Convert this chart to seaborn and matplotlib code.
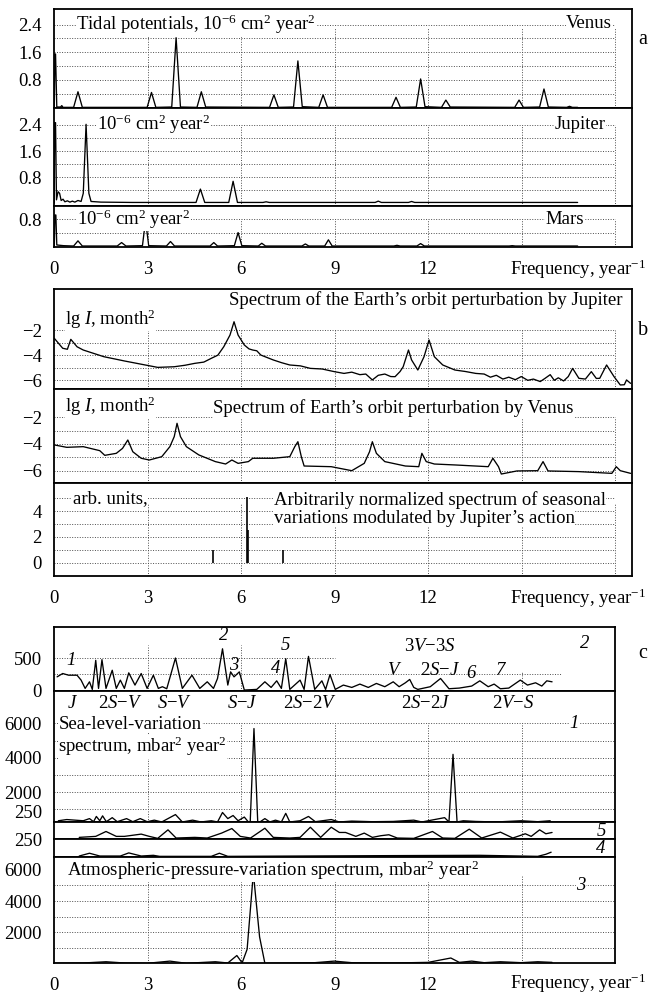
import matplotlib
matplotlib.use("Agg")
import matplotlib.pyplot as plt
import seaborn as sns
import pandas as pd

# ---------------- data (frequency in 1/year, value) ----------------
# (a) tidal potentials, 1e-6 cm^2 year^2
venus_tidal = [(0.0, 0.0), (0.02, 1.55), (0.04, 1.55), (0.08, 0.02), (0.2, 0.02), (0.24, 0.06),
               (0.28, 0.01), (0.62, 0.01), (0.76, 0.46), (0.9, 0.01), (2.98, 0.01), (3.12, 0.44),
               (3.26, 0.01), (3.77, 0.02), (3.91, 2.02), (4.05, 0.02), (4.58, 0.01), (4.72, 0.46),
               (4.86, 0.02), (6.91, 0.01), (7.05, 0.37), (7.19, 0.01), (7.68, 0.02), (7.82, 1.35),
               (7.96, 0.03), (8.49, 0.01), (8.63, 0.37), (8.77, 0.01), (10.83, 0.01), (10.97, 0.30),
               (11.11, 0.01), (11.62, 0.02), (11.76, 0.83), (11.9, 0.03), (12.43, 0.01), (12.57, 0.22),
               (12.71, 0.02), (14.78, 0.01), (14.92, 0.22), (15.06, 0.01), (15.58, 0.02), (15.72, 0.54),
               (15.86, 0.02), (16.45, 0.01), (16.54, 0.04), (16.63, 0.01), (16.8, 0.01)]
jupiter_tidal = [(0.0, 0.0), (0.01, 2.47), (0.04, 2.47), (0.07, 0.1), (0.12, 0.35), (0.17, 0.3),
                 (0.22, 0.08), (0.28, 0.12), (0.34, 0.04), (0.42, 0.07), (0.5, 0.03), (0.58, 0.06),
                 (0.66, 0.03), (0.76, 0.08), (0.86, 0.05), (0.93, 0.3), (1.02, 2.42), (1.11, 0.3),
                 (1.18, 0.05), (1.5, 0.03), (2.5, 0.02), (4.55, 0.02), (4.69, 0.43), (4.83, 0.02),
                 (5.6, 0.02), (5.74, 0.67), (5.88, 0.02), (6.7, 0.02), (6.8, 0.04), (6.9, 0.02),
                 (10.3, 0.02), (10.4, 0.06), (10.5, 0.02), (11.37, 0.02), (11.47, 0.05),
                 (11.57, 0.02), (16.8, 0.02)]
mars_tidal = [(0.0, 0.0), (0.02, 0.92), (0.05, 0.92), (0.08, 0.05), (0.3, 0.03), (0.62, 0.02),
              (0.76, 0.17), (0.9, 0.02), (2.02, 0.02), (2.16, 0.12), (2.3, 0.02), (2.83, 0.03),
              (2.93, 0.77), (3.03, 0.03), (3.6, 0.02), (3.73, 0.15), (3.86, 0.02), (5.0, 0.02),
              (5.12, 0.12), (5.24, 0.02), (5.78, 0.03), (5.9, 0.41), (6.02, 0.03), (6.55, 0.02),
              (6.66, 0.1), (6.78, 0.02), (7.95, 0.02), (8.06, 0.08), (8.17, 0.02), (8.68, 0.02),
              (8.8, 0.2), (8.92, 0.02), (10.9, 0.02), (11.0, 0.04), (11.1, 0.02), (11.64, 0.02),
              (11.76, 0.09), (11.88, 0.02), (14.6, 0.02), (14.7, 0.03), (14.8, 0.02), (16.8, 0.02)]

# (b) lg I of the Earth's orbit perturbation
orbit_jupiter = [(0.0, -2.66), (0.27, -3.45), (0.42, -3.53), (0.53, -2.74), (0.73, -3.33),
                 (0.93, -3.59), (1.59, -4.12), (2.25, -4.46), (2.92, -4.78), (3.32, -4.97),
                 (3.85, -4.92), (4.2, -4.8), (4.51, -4.65), (4.8, -4.55), (5.04, -4.25),
                 (5.25, -4.0), (5.44, -3.33), (5.64, -2.4), (5.77, -1.34), (5.9, -2.4),
                 (6.1, -3.19), (6.25, -3.5), (6.37, -3.59), (6.5, -3.65), (6.63, -3.99),
                 (7.03, -4.38), (7.3, -4.6), (7.56, -4.78), (7.9, -4.85), (8.22, -5.05),
                 (8.6, -5.1), (8.99, -5.31), (9.3, -5.45), (9.55, -5.35), (9.81, -5.55),
                 (10.0, -5.5), (10.21, -5.97), (10.4, -5.6), (10.61, -5.5), (10.8, -5.7),
                 (10.94, -5.71), (11.1, -5.3), (11.2, -4.92), (11.37, -3.59), (11.47, -4.38),
                 (11.67, -5.18), (11.87, -4.12), (12.03, -2.79), (12.2, -4.12), (12.47, -4.78),
                 (12.86, -5.18), (13.2, -5.3), (13.53, -5.45), (13.8, -5.5), (14.0, -5.75),
                 (14.19, -5.6), (14.4, -5.9), (14.59, -5.75), (14.8, -5.95), (14.99, -5.7),
                 (15.2, -6.0), (15.38, -5.9), (15.6, -6.1), (15.75, -5.85), (15.92, -5.55),
                 (16.05, -6.0), (16.18, -5.8), (16.35, -6.05), (16.5, -5.7), (16.64, -5.05),
                 (16.84, -5.84), (17.05, -5.9), (17.24, -5.31), (17.4, -5.85), (17.51, -5.84),
                 (17.73, -4.78), (17.97, -5.71), (18.17, -6.37), (18.3, -6.35), (18.37, -5.97),
                 (18.5, -6.24)]
orbit_venus = [(0.0, -4.07), (0.4, -4.25), (0.93, -4.2), (1.46, -4.5), (1.62, -4.85), (1.99, -4.7),
               (2.19, -4.33), (2.36, -3.7), (2.52, -4.58), (2.79, -5.07), (3.05, -5.2), (3.45, -4.95),
               (3.71, -4.2), (3.85, -3.45), (3.94, -2.45), (4.05, -3.45), (4.24, -4.2), (4.64, -4.82),
               (5.17, -5.32), (5.5, -5.5), (5.7, -5.2), (5.9, -5.45), (6.23, -5.32), (6.37, -5.07),
               (7.03, -5.07), (7.56, -4.95), (7.72, -4.2), (7.82, -3.83), (7.93, -4.95),
               (8.02, -5.65), (8.89, -5.7), (9.55, -6.0), (9.95, -5.45), (10.12, -4.58),
               (10.21, -3.83), (10.34, -4.7), (10.61, -5.32), (11.27, -5.65), (11.7, -5.7),
               (11.8, -4.7), (11.94, -5.32), (12.2, -5.5), (12.86, -5.57), (13.93, -5.7),
               (14.08, -5.07), (14.26, -5.7), (14.35, -6.25), (14.85, -6.02), (15.52, -6.0),
               (15.69, -5.32), (15.85, -6.02), (16.84, -6.07), (17.9, -6.2), (18.04, -5.7),
               (18.17, -6.0), (18.5, -6.2)]
season_freq = [5.08, 6.19, 6.23, 7.35]
season_amp = [0.95, 5.1, 2.5, 0.95]

# (c) observed spectra
spec_2 = [(0.09, 212), (0.27, 263), (0.46, 237), (0.73, 237), (0.86, 162), (0.99, 35), (1.13, 136),
          (1.22, 20), (1.33, 465), (1.42, 35), (1.53, 475), (1.66, 35), (1.86, 313), (1.99, 35),
          (2.12, 162), (2.25, 35), (2.39, 273), (2.59, 86), (2.79, 263), (2.98, 35), (3.18, 237),
          (3.34, 35), (3.47, 61), (3.61, 30), (3.89, 500), (4.11, 35), (4.42, 237), (4.67, 35),
          (4.91, 136), (5.11, 35), (5.24, 187), (5.4, 641), (5.57, 86), (5.66, 288), (5.77, 212),
          (5.94, 288), (6.1, 10), (6.5, 20), (6.76, 136), (6.96, 50), (7.14, 151), (7.29, 35),
          (7.43, 490), (7.56, 20), (7.89, 162), (8.02, 20), (8.16, 525), (8.36, 20), (8.59, 151),
          (8.71, 20), (8.85, 247), (9.02, 20), (9.28, 86), (9.55, 50), (9.81, 101), (10.08, 50),
          (10.34, 111), (10.61, 61), (10.88, 136), (11.07, 61), (11.27, 121), (11.41, 172),
          (11.54, 50), (11.67, 20), (12.07, 61), (12.4, 187), (12.67, 30), (13.0, 40),
          (13.4, 71), (13.66, 151), (13.93, 61), (14.12, 101), (14.32, 30), (14.59, 40),
          (14.96, 162), (15.19, 86), (15.45, 121), (15.65, 71), (15.81, 151), (15.98, 136)]
spec_1 = [(0.13, 340), (0.4, 410), (0.93, 340), (1.13, 465), (1.26, 285), (1.35, 590), (1.46, 340),
          (1.55, 625), (1.67, 285), (1.86, 520), (2.02, 285), (2.32, 465), (2.52, 285), (2.76, 465),
          (2.98, 285), (3.21, 375), (3.45, 270), (3.89, 700), (4.11, 270), (4.44, 375), (4.71, 270),
          (5.04, 340), (5.24, 270), (5.4, 820), (5.57, 465), (5.74, 645), (5.9, 340), (6.1, 555),
          (6.23, 270), (6.29, 300), (6.41, 5700), (6.53, 300), (6.6, 270), (6.76, 465), (6.92, 270),
          (7.1, 375), (7.29, 270), (7.43, 770), (7.56, 270), (7.89, 340), (8.16, 590), (8.38, 285),
          (8.89, 410), (9.15, 270), (9.55, 320), (10.21, 285), (10.88, 300), (11.54, 375),
          (11.8, 270), (12.53, 520), (12.67, 270), (12.8, 4200), (12.93, 270), (13.13, 340),
          (13.53, 300), (14.19, 270), (14.99, 340), (15.52, 285), (15.92, 340)]
spec_5 = [(0.8, 68), (1.33, 110), (1.66, 315), (1.99, 110), (2.25, 110), (2.79, 205), (3.05, 110),
          (3.32, 27), (3.65, 384), (3.91, 41), (4.51, 68), (4.91, 41), (5.37, 247), (5.7, 438),
          (5.97, 110), (6.3, 41), (6.76, 452), (7.03, 68), (7.56, 41), (7.89, 68), (8.22, 493),
          (8.55, 68), (8.89, 493), (9.15, 274), (9.35, 274), (9.68, 110), (9.95, 247), (10.21, 68),
          (10.48, 137), (10.74, 178), (11.01, 41), (11.54, 27), (12.14, 315), (12.47, 41),
          (12.86, 27), (13.32, 411), (13.72, 41), (14.32, 288), (14.72, 41), (15.12, 219),
          (15.31, 110), (15.58, 384), (15.78, 219), (15.98, 274)]
spec_4 = [(0.8, 27), (1.13, 137), (1.46, 27), (2.12, 27), (2.39, 150), (2.79, 27), (3.18, 55),
          (3.38, 14), (5.04, 14), (5.3, 137), (5.57, 14), (10.48, 41), (13.66, 55), (15.52, 14),
          (15.78, 96), (15.95, 178)]
spec_3 = [(0.0, 0), (0.93, 20), (1.66, 100), (2.25, 20), (2.98, 0), (3.71, 140), (4.24, 0),
          (5.17, 100), (5.57, 20), (5.86, 500), (6.03, 30), (6.19, 900), (6.39, 5800),
          (6.59, 1700), (6.76, 0), (7.56, 20), (8.36, 40), (8.99, 140), (9.55, 40), (10.88, 20),
          (12.0, 60), (12.73, 340), (13.0, 60), (13.4, 140), (13.8, 40), (14.32, 100),
          (14.99, 40), (15.52, 100), (15.98, 60)]

combo_labels = [("J", 0.6), ("2S{-}V", 2.12), ("S{-}V", 3.85), ("S{-}J", 6.03),
                ("2S{-}2V", 8.22), ("2S{-}2J", 11.94), ("2V{-}S", 14.72)]
peak_numbers = [("1", 0.53, 465), ("2", 5.44, 845), ("3", 5.77, 390), ("4", 7.1, 345),
                ("5", 7.43, 690)]
peak_combos = [("3V{-}3S", 12.07, 675), ("V", 10.94, 315), ("2S{-}J", 12.4, 315)]
peak_numbers_r = [("6", 13.36, 270), ("7", 14.32, 315), ("2", 17.04, 720)]

# ---------------- styling ----------------
sns.set_theme(style="white")
plt.rcParams.update({
    "font.family": ["Liberation Serif", "DejaVu Serif"],
    "mathtext.fontset": "custom",
    "mathtext.rm": "Liberation Serif",
    "mathtext.it": "Liberation Serif:italic",
    "mathtext.bf": "Liberation Serif:bold",
    "axes.edgecolor": "black",
    "axes.linewidth": 1.3,
    "xtick.color": "black",
    "ytick.color": "black",
    "text.color": "black",
})

W, H = 648, 1005
FS = 13.5
fig = plt.figure(figsize=(W / 100, H / 100), dpi=100)
fig.patch.set_facecolor("white")

X0 = 54.3
UNIT = 31.15
GRID_KW = dict(colors="0.3", linestyles=(0, (1, 1.6)), linewidths=0.7, zorder=0.5)
BOX = dict(facecolor="white", edgecolor="none", pad=0.3)


def add_ax(y_top, y_bot, xmax):
    x1 = X0 + xmax * UNIT
    return fig.add_axes([X0 / W, 1 - y_bot / H, (x1 - X0) / W, (y_bot - y_top) / H])


def style(ax, xmax, ylim, yticks, ylabels, hgrid, vtop, bottom=False, hgrid_end=18.0):
    ax.set_xlim(0, xmax)
    ax.set_ylim(*ylim)
    ax.set_yticks(yticks)
    ax.set_yticklabels(ylabels)
    ax.set_xticks([0, 3, 6, 9, 12, 15, 18])
    ax.set_xticklabels(["0", "3", "6", "9", "12", "", ""])
    ax.tick_params(axis="y", direction="in", length=7, width=1.3, pad=9, labelsize=FS)
    ax.tick_params(axis="x", direction="in", length=6 if bottom else 0, width=1.3,
                   pad=10, labelsize=FS, labelbottom=bottom)
    ax.set_xlabel("")
    ax.set_ylabel("")
    for s in ax.spines.values():
        s.set_visible(True)
        s.set_color("black")
        s.set_linewidth(1.3)
    if hgrid:
        ax.hlines(hgrid, 0, hgrid_end, **GRID_KW)
    if vtop is not None:
        ax.vlines([3, 6, 9, 12, 15, 18], ylim[0], vtop, **GRID_KW)


def curve(ax, pts, lw=0.95):
    df = pd.DataFrame(pts, columns=["freq", "value"])
    sns.lineplot(data=df, x="freq", y="value", ax=ax, color="black", linewidth=lw,
                 estimator=None, sort=False, zorder=2)


def note(ax, x, y, s, ha="left", italic=False, box=True):
    ax.text(x, y, s, fontsize=FS, va="center", ha=ha,
            fontstyle="italic" if italic else "normal",
            bbox=BOX if box else None, zorder=4)


# ---------------- panel a ----------------
ax_v = add_ax(9.3, 107.7, 18.54)
curve(ax_v, venus_tidal)
style(ax_v, 18.54, (0, 2.84), [0.8, 1.6, 2.4], ["0.8", "1.6", "2.4"],
      [0.4, 0.8, 1.2, 1.6, 2.0, 2.4], 2.3)
note(ax_v, 0.7, 2.4, r"Tidal potentials, $10^{-6}$ cm$^{2}$ year$^{2}$")
note(ax_v, 17.9, 2.42, "Venus", ha="right")

ax_j = add_ax(107.7, 205.7, 18.54)
curve(ax_j, jupiter_tidal)
style(ax_j, 18.54, (-0.08, 2.93), [0.8, 1.6, 2.4], ["0.8", "1.6", "2.4"],
      [0.4, 0.8, 1.2, 1.6, 2.0, 2.4], 2.4)
note(ax_j, 1.36, 2.42, r"$10^{-6}$ cm$^{2}$ year$^{2}$")
note(ax_j, 17.7, 2.42, "Jupiter", ha="right")

ax_m = add_ax(205.7, 246.7, 18.54)
curve(ax_m, mars_tidal)
style(ax_m, 18.54, (0, 1.19), [0.8], ["0.8"], [0.4, 0.8], 0.8, bottom=True)
note(ax_m, 0.72, 0.8, r"$10^{-6}$ cm$^{2}$ year$^{2}$")
note(ax_m, 17.0, 0.8, "Mars", ha="right")

# ---------------- panel b ----------------
ax_bj = add_ax(289.3, 389.0, 18.54)
curve(ax_bj, orbit_jupiter)
style(ax_bj, 18.54, (-6.69, 1.24), [-6, -4, -2], ["\u22126", "\u22124", "\u22122"],
      [-6, -5, -4, -3, -2], -2)
note(ax_bj, 0.35, -1.15, r"lg $I$, month$^{2}$")
note(ax_bj, 18.25, 0.35, "Spectrum of the Earth\u2019s orbit perturbation by Jupiter", ha="right")

ax_bv = add_ax(389.0, 482.7, 18.54)
curve(ax_bv, orbit_venus)
style(ax_bv, 18.54, (-6.9, 0.12), [-6, -4, -2], ["\u22126", "\u22124", "\u22122"],
      [-6, -5, -4, -3, -2], -2)
note(ax_bv, 0.35, -1.2, r"lg $I$, month$^{2}$")
note(ax_bv, 5.1, -1.33, "Spectrum of Earth\u2019s orbit perturbation by Venus")

ax_bs = add_ax(482.7, 576.0, 18.54)
ax_bs.vlines(season_freq, 0, season_amp, colors="black", linewidths=1.2, zorder=2)
style(ax_bs, 18.54, (-1.03, 6.2), [0, 2, 4, 5], ["0", "2", "4", ""],
      [0, 1, 2, 3, 4, 5], 4.6, bottom=True)
note(ax_bs, 0.59, 4.95, "arb. units,")
note(ax_bs, 7.05, 4.85, "Arbitrarily normalized spectrum of seasonal")
note(ax_bs, 7.05, 3.45, "variations modulated by Jupiter\u2019s action")

# ---------------- panel c ----------------
ax_c2 = add_ax(627.3, 690.7, 18.0)
curve(ax_c2, spec_2)
style(ax_c2, 18.0, (0, 970), [0, 500], ["0", "500"], None, None)
ax_c2.hlines([250], 0, 16.3, **GRID_KW)
ax_c2.hlines([500], 0, 9.0, **GRID_KW)
ax_c2.vlines([3, 6], 0, 700, **GRID_KW)
ax_c2.vlines([15], 0, 300, **GRID_KW)
for lab, fx, fy in peak_numbers + peak_numbers_r:
    ax_c2.text(fx, fy, lab, fontsize=FS, fontstyle="italic", va="center", ha="center",
               zorder=4)
for lab, fx, fy in peak_combos:
    ax_c2.text(fx, fy, "$" + lab + "$", fontsize=FS, va="center", ha="center", zorder=4)

ax_c1 = add_ax(690.7, 822.3, 18.0)
curve(ax_c1, spec_1)
style(ax_c1, 18.0, (250, 7900), [250, 2000, 4000, 6000], ["250", "2000", "4000", "6000"],
      [1000, 2000, 3000, 4000, 5000, 6000], 6000)
ax_c1.get_yticklabels()[0].set_verticalalignment("bottom")
for lab, fx in combo_labels:
    ax_c1.text(fx, 7150, "$" + lab + "$", fontsize=FS, va="center", ha="center", zorder=4)
note(ax_c1, 0.13, 5950, "Sea-level-variation")
note(ax_c1, 0.13, 4650, "spectrum, mbar$^{2}$ year$^{2}$")
note(ax_c1, 16.7, 6000, "1", ha="center", italic=True)

ax_c5 = add_ax(822.3, 839.0, 18.0)
curve(ax_c5, spec_5)
style(ax_c5, 18.0, (0, 700), [250], ["250"], None, None)
ax_c5.get_yticklabels()[0].set_verticalalignment("top")
ax_c5.vlines([15], 0, 700, **GRID_KW)
note(ax_c5, 17.55, 330, "5", ha="center", italic=True, box=False)

ax_c4 = add_ax(839.0, 856.7, 18.0)
curve(ax_c4, spec_4)
style(ax_c4, 18.0, (0, 700), [], [], None, None)
ax_c4.vlines([15], 0, 700, **GRID_KW)
note(ax_c4, 17.55, 330, "4", ha="center", italic=True, box=False)

ax_c3 = add_ax(856.7, 963.3, 18.0)
curve(ax_c3, spec_3)
style(ax_c3, 18.0, (0, 6850), [2000, 4000, 6000], ["2000", "4000", "6000"],
      [1000, 2000, 3000, 4000, 5000], 5700, bottom=True)
note(ax_c3, 0.4, 6000, "Atmospheric-pressure-variation spectrum, mbar$^{2}$ year$^{2}$")
note(ax_c3, 16.9, 5000, "3", ha="center", italic=True)

# ---------------- axis titles and panel letters ----------------
freq_label = r"Frequency, year$^{-1}$"
for yy in (269, 598, 983):
    fig.text(646 / W, 1 - yy / H, freq_label, fontsize=FS, ha="right", va="center")
for letter, yy in (("a", 39), ("b", 330), ("c", 653)):
    fig.text(643 / W, 1 - yy / H, letter, fontsize=FS + 1, ha="center", va="center")

fig.savefig("out.png", dpi=100, facecolor="white")
